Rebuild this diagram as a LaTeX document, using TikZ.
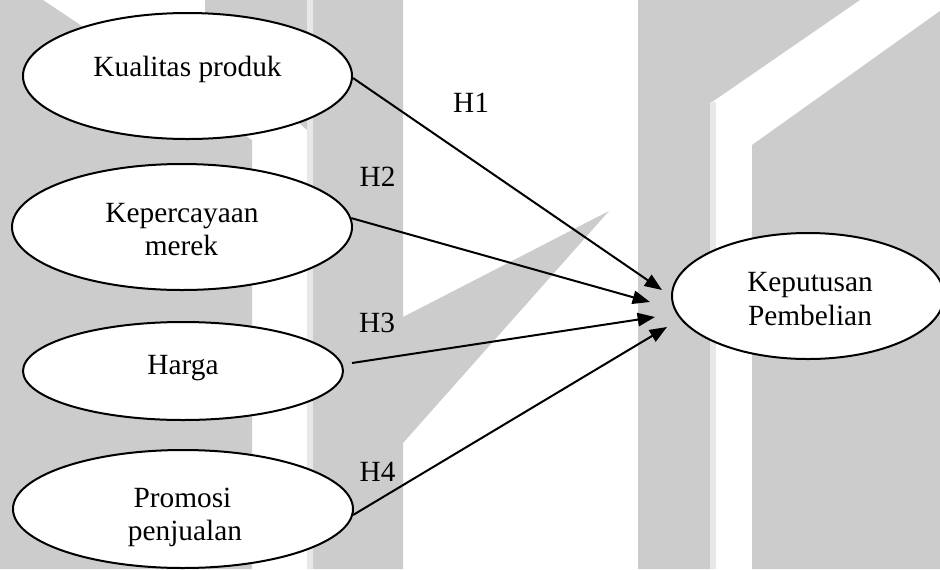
\documentclass[tikz,border=0pt]{standalone}
\usepackage{fontspec}
\setmainfont{Liberation Serif}
\usetikzlibrary{shapes.geometric,arrows.meta}
\definecolor{wmgrey}{RGB}{204,204,204}
\definecolor{wmlight}{RGB}{232,232,232}
\begin{document}
\begin{tikzpicture}[x=0.75pt,y=-0.75pt,
  var/.style={ellipse, draw=black, fill=white, line width=1.5pt, inner sep=0pt},
  lbl/.style={font=\fontsize{22pt}{24.75pt}\selectfont, inner sep=0pt, anchor=base},
  arr/.style={line width=1.5pt, -{Triangle[length=13pt,width=10pt]}},
  wm/.style={fill=wmgrey, draw=none},
  wml/.style={fill=wmlight, draw=none}]
\useasboundingbox (0,0) rectangle (940,569);
\clip (0,0) rectangle (940,569);
\fill[white] (0,0) rectangle (940,569);

% background watermark bands
\fill[wm] (0,0) -- (43,0) -- (252,140) -- (252,569) -- (0,569) -- cycle;
\fill[wm] (205,0) -- (403,0) -- (403,569) -- (307,569) -- (307,130) -- (205,40) -- cycle;
\fill[wml] (307,0) rectangle (313,569);
\fill[wm] (403,317) -- (609,211) -- (403,443) -- cycle;
\fill[wm] (638,0) -- (860,0) -- (712,102) -- (712,569) -- (638,569) -- cycle;
\fill[wml] (710,102) rectangle (716,569);
\fill[wm] (752,145) -- (940,11) -- (940,569) -- (752,569) -- cycle;

% variables
\node[var, minimum width=246.75pt, minimum height=94.5pt] (kp) at (187.5,76) {};
\node[var, minimum width=255pt, minimum height=94.5pt] (km) at (182,227) {};
\node[var, minimum width=240pt, minimum height=73.5pt] (hg) at (183,371) {};
\node[var, minimum width=255pt, minimum height=88.5pt] (pp) at (183,509) {};
\node[var, minimum width=204pt, minimum height=94.5pt] (kb) at (808,296) {};

% variable names
\node[lbl] (kp-t) at (187.5,76) {Kualitas produk};
\node[lbl] (km-t1) at (182,222) {Kepercayaan};
\node[lbl] (km-t2) at (181.5,255) {merek};
\node[lbl] (hg-t) at (183,374) {Harga};
\node[lbl] (pp-t1) at (182.5,507) {Promosi};
\node[lbl] (pp-t2) at (185,540) {penjualan};
\node[lbl] (kb-t1) at (810,291) {Keputusan};
\node[lbl] (kb-t2) at (810,325) {Pembelian};

% arrow tips next to the dependent variable
\coordinate (t1) at (662,290);
\coordinate (t2) at (650,302);
\coordinate (t3) at (655,317);
\coordinate (t4) at (667,327);

% hypotheses
\draw[arr] ([shift={(0,2)}]kp.east) -- (t1);
\draw[arr] (km.3) -- (t2);
\draw[arr] ([shift={(8,-8)}]hg.east) -- (t3);
\draw[arr] (pp.-2) -- (t4);

\node[lbl] (h1) at (471,112) {H1};
\node[lbl] (h2) at (377.5,186) {H2};
\node[lbl] (h3) at (377,332) {H3};
\node[lbl] (h4) at (377.5,481) {H4};
\end{tikzpicture}
\end{document}
